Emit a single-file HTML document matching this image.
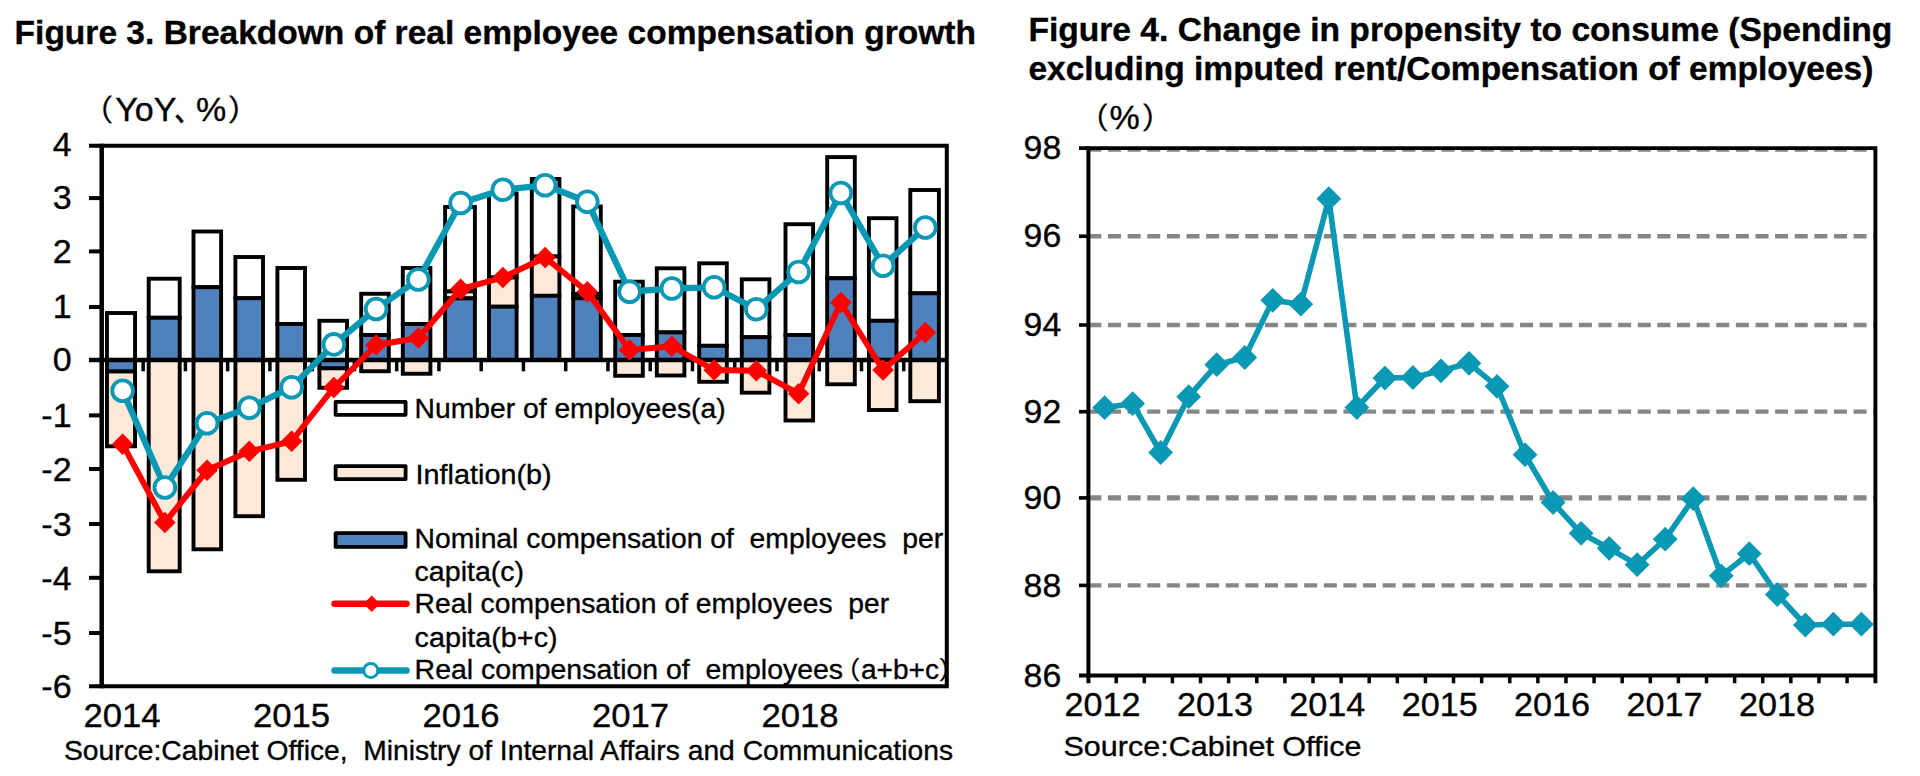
<!DOCTYPE html>
<html lang="en">
<head>
<meta charset="utf-8">
<title>Figure 3 and Figure 4</title>
<style>
html,body{margin:0;padding:0;background:#fff;}
body{width:1920px;height:776px;overflow:hidden;}
svg{display:block;font-family:"Liberation Sans", "IPAGothic", sans-serif;}
</style>
</head>
<body>
<svg width="1920" height="776" viewBox="0 0 1920 776">
<rect x="0" y="0" width="1920" height="776" fill="#fff"/>
<g id="chart1">
<g id="bars1">
<rect x="106.95" y="371.30" width="28.10" height="75.00" fill="#FDE9D9" stroke="#000" stroke-width="3.9"/>
<rect x="106.95" y="359.90" width="28.10" height="11.40" fill="#4F81BD" stroke="#000" stroke-width="3.9"/>
<rect x="106.95" y="313.00" width="28.10" height="46.90" fill="#fff" stroke="#000" stroke-width="3.9"/>
<rect x="148.70" y="359.90" width="31.00" height="211.40" fill="#FDE9D9" stroke="#000" stroke-width="3.9"/>
<rect x="148.70" y="278.70" width="31.00" height="39.05" fill="#fff" stroke="#000" stroke-width="3.9"/>
<rect x="148.70" y="317.75" width="31.00" height="42.15" fill="#4F81BD" stroke="#000" stroke-width="3.9"/>
<rect x="193.50" y="359.90" width="27.60" height="189.40" fill="#FDE9D9" stroke="#000" stroke-width="3.9"/>
<rect x="193.50" y="231.50" width="27.60" height="55.70" fill="#fff" stroke="#000" stroke-width="3.9"/>
<rect x="193.50" y="287.20" width="27.60" height="72.70" fill="#4F81BD" stroke="#000" stroke-width="3.9"/>
<rect x="235.40" y="359.90" width="27.60" height="156.30" fill="#FDE9D9" stroke="#000" stroke-width="3.9"/>
<rect x="235.40" y="257.00" width="27.60" height="41.20" fill="#fff" stroke="#000" stroke-width="3.9"/>
<rect x="235.40" y="298.20" width="27.60" height="61.70" fill="#4F81BD" stroke="#000" stroke-width="3.9"/>
<rect x="277.40" y="359.90" width="27.60" height="119.90" fill="#FDE9D9" stroke="#000" stroke-width="3.9"/>
<rect x="277.40" y="268.00" width="27.60" height="56.00" fill="#fff" stroke="#000" stroke-width="3.9"/>
<rect x="277.40" y="324.00" width="27.60" height="35.90" fill="#4F81BD" stroke="#000" stroke-width="3.9"/>
<rect x="319.40" y="368.20" width="27.60" height="19.60" fill="#FDE9D9" stroke="#000" stroke-width="3.9"/>
<rect x="319.40" y="359.90" width="27.60" height="8.30" fill="#4F81BD" stroke="#000" stroke-width="3.9"/>
<rect x="319.40" y="320.80" width="27.60" height="39.10" fill="#fff" stroke="#000" stroke-width="3.9"/>
<rect x="361.20" y="359.90" width="27.60" height="11.35" fill="#FDE9D9" stroke="#000" stroke-width="3.9"/>
<rect x="361.20" y="293.75" width="27.60" height="41.25" fill="#fff" stroke="#000" stroke-width="3.9"/>
<rect x="361.20" y="335.00" width="27.60" height="24.90" fill="#4F81BD" stroke="#000" stroke-width="3.9"/>
<rect x="402.80" y="359.90" width="27.60" height="13.85" fill="#FDE9D9" stroke="#000" stroke-width="3.9"/>
<rect x="402.80" y="268.00" width="27.60" height="56.00" fill="#fff" stroke="#000" stroke-width="3.9"/>
<rect x="402.80" y="324.00" width="27.60" height="35.90" fill="#4F81BD" stroke="#000" stroke-width="3.9"/>
<rect x="445.10" y="207.00" width="29.80" height="84.40" fill="#fff" stroke="#000" stroke-width="3.9"/>
<rect x="445.10" y="291.40" width="29.80" height="7.00" fill="#FDE9D9" stroke="#000" stroke-width="3.9"/>
<rect x="445.10" y="298.40" width="29.80" height="61.50" fill="#4F81BD" stroke="#000" stroke-width="3.9"/>
<rect x="489.00" y="193.50" width="27.60" height="84.00" fill="#fff" stroke="#000" stroke-width="3.9"/>
<rect x="489.00" y="277.50" width="27.60" height="29.20" fill="#FDE9D9" stroke="#000" stroke-width="3.9"/>
<rect x="489.00" y="306.70" width="27.60" height="53.20" fill="#4F81BD" stroke="#000" stroke-width="3.9"/>
<rect x="531.80" y="179.00" width="27.60" height="77.50" fill="#fff" stroke="#000" stroke-width="3.9"/>
<rect x="531.80" y="256.50" width="27.60" height="39.30" fill="#FDE9D9" stroke="#000" stroke-width="3.9"/>
<rect x="531.80" y="295.80" width="27.60" height="64.10" fill="#4F81BD" stroke="#000" stroke-width="3.9"/>
<rect x="573.20" y="206.50" width="27.60" height="87.50" fill="#fff" stroke="#000" stroke-width="3.9"/>
<rect x="573.20" y="294.00" width="27.60" height="4.30" fill="#FDE9D9" stroke="#000" stroke-width="3.9"/>
<rect x="573.20" y="298.30" width="27.60" height="61.60" fill="#4F81BD" stroke="#000" stroke-width="3.9"/>
<rect x="615.20" y="359.90" width="27.60" height="15.90" fill="#FDE9D9" stroke="#000" stroke-width="3.9"/>
<rect x="615.20" y="281.70" width="27.60" height="53.30" fill="#fff" stroke="#000" stroke-width="3.9"/>
<rect x="615.20" y="335.00" width="27.60" height="24.90" fill="#4F81BD" stroke="#000" stroke-width="3.9"/>
<rect x="656.80" y="359.90" width="27.60" height="15.60" fill="#FDE9D9" stroke="#000" stroke-width="3.9"/>
<rect x="656.80" y="268.30" width="27.60" height="64.10" fill="#fff" stroke="#000" stroke-width="3.9"/>
<rect x="656.80" y="332.40" width="27.60" height="27.50" fill="#4F81BD" stroke="#000" stroke-width="3.9"/>
<rect x="699.20" y="359.90" width="27.60" height="21.90" fill="#FDE9D9" stroke="#000" stroke-width="3.9"/>
<rect x="699.20" y="263.30" width="27.60" height="82.50" fill="#fff" stroke="#000" stroke-width="3.9"/>
<rect x="699.20" y="345.80" width="27.60" height="14.10" fill="#4F81BD" stroke="#000" stroke-width="3.9"/>
<rect x="741.80" y="359.90" width="27.60" height="32.80" fill="#FDE9D9" stroke="#000" stroke-width="3.9"/>
<rect x="741.80" y="279.30" width="27.60" height="57.90" fill="#fff" stroke="#000" stroke-width="3.9"/>
<rect x="741.80" y="337.20" width="27.60" height="22.70" fill="#4F81BD" stroke="#000" stroke-width="3.9"/>
<rect x="785.50" y="359.90" width="27.60" height="60.60" fill="#FDE9D9" stroke="#000" stroke-width="3.9"/>
<rect x="785.50" y="224.20" width="27.60" height="110.80" fill="#fff" stroke="#000" stroke-width="3.9"/>
<rect x="785.50" y="335.00" width="27.60" height="24.90" fill="#4F81BD" stroke="#000" stroke-width="3.9"/>
<rect x="827.20" y="359.90" width="27.60" height="24.40" fill="#FDE9D9" stroke="#000" stroke-width="3.9"/>
<rect x="827.20" y="157.10" width="27.60" height="121.20" fill="#fff" stroke="#000" stroke-width="3.9"/>
<rect x="827.20" y="278.30" width="27.60" height="81.60" fill="#4F81BD" stroke="#000" stroke-width="3.9"/>
<rect x="868.90" y="359.90" width="27.60" height="50.10" fill="#FDE9D9" stroke="#000" stroke-width="3.9"/>
<rect x="868.90" y="218.20" width="27.60" height="102.60" fill="#fff" stroke="#000" stroke-width="3.9"/>
<rect x="868.90" y="320.80" width="27.60" height="39.10" fill="#4F81BD" stroke="#000" stroke-width="3.9"/>
<rect x="910.30" y="359.90" width="28.60" height="41.30" fill="#FDE9D9" stroke="#000" stroke-width="3.9"/>
<rect x="910.30" y="190.00" width="28.60" height="103.30" fill="#fff" stroke="#000" stroke-width="3.9"/>
<rect x="910.30" y="293.30" width="28.60" height="66.60" fill="#4F81BD" stroke="#000" stroke-width="3.9"/>
</g>
<g stroke="#000" fill="none">
<path d="M89 145.8 H946.8 V686.2 H89" stroke-width="4"/>
<path d="M101.7 143.8 V688.2" stroke-width="4.5"/>
<path d="M89 359.9 H946.8" stroke-width="4.5"/>
<path d="M89 198.1 H101.7" stroke-width="4"/>
<path d="M89 251.4 H101.7" stroke-width="4"/>
<path d="M89 307.0 H101.7" stroke-width="4"/>
<path d="M89 415.4 H101.7" stroke-width="4"/>
<path d="M89 469.0 H101.7" stroke-width="4"/>
<path d="M89 524.0 H101.7" stroke-width="4"/>
<path d="M89 577.8 H101.7" stroke-width="4"/>
<path d="M89 633.0 H101.7" stroke-width="4"/>
<path d="M143.16 359.9 V371.3" stroke-width="3.5"/>
<path d="M185.41 359.9 V371.3" stroke-width="3.5"/>
<path d="M227.67 359.9 V371.3" stroke-width="3.5"/>
<path d="M269.92 359.9 V371.3" stroke-width="3.5"/>
<path d="M312.18 359.9 V371.3" stroke-width="3.5"/>
<path d="M354.43 359.9 V371.3" stroke-width="3.5"/>
<path d="M396.69 359.9 V371.3" stroke-width="3.5"/>
<path d="M438.94 359.9 V371.3" stroke-width="3.5"/>
<path d="M481.19 359.9 V371.3" stroke-width="3.5"/>
<path d="M523.45 359.9 V371.3" stroke-width="3.5"/>
<path d="M565.71 359.9 V371.3" stroke-width="3.5"/>
<path d="M607.96 359.9 V371.3" stroke-width="3.5"/>
<path d="M650.22 359.9 V371.3" stroke-width="3.5"/>
<path d="M692.47 359.9 V371.3" stroke-width="3.5"/>
<path d="M734.73 359.9 V371.3" stroke-width="3.5"/>
<path d="M776.98 359.9 V371.3" stroke-width="3.5"/>
<path d="M819.24 359.9 V371.3" stroke-width="3.5"/>
<path d="M861.49 359.9 V371.3" stroke-width="3.5"/>
<path d="M903.75 359.9 V371.3" stroke-width="3.5"/>
</g>
<g id="legend1">
<rect x="335.6" y="401.80" width="70" height="13" fill="#fff" stroke="#000" stroke-width="3.8" stroke-linejoin="round"/>
<rect x="335.6" y="466.10" width="70" height="13" fill="#FDE9D9" stroke="#000" stroke-width="3.8" stroke-linejoin="round"/>
<rect x="335.6" y="533.10" width="70" height="13.8" fill="#4F81BD" stroke="#000" stroke-width="3.8" stroke-linejoin="round"/>
<path d="M334.5 603.8 H406.5" stroke="#FF0000" stroke-width="6.5" stroke-linecap="round"/>
<path d="M371.7 595.6 l8.2 8.2 l-8.2 8.2 l-8.2 -8.2z" fill="#FF0000"/>
<path d="M334.5 670.5 H406.5" stroke="#0B98B4" stroke-width="6.5" stroke-linecap="round"/>
<circle cx="370.8" cy="670.5" r="7" fill="#fff" stroke="#0B98B4" stroke-width="3"/>
</g>
<polyline points="122.60,444.20 164.85,522.50 207.10,470.30 249.35,451.30 291.60,441.30 333.85,387.50 376.10,345.00 418.35,338.00 460.60,289.20 502.85,277.50 545.10,257.50 587.35,291.70 629.60,350.00 671.85,346.30 714.10,370.00 756.35,370.80 798.60,393.70 840.85,302.50 883.10,370.00 925.35,332.50" fill="none" stroke="#FF0000" stroke-width="5.9" stroke-linejoin="round"/>
<path d="M122.60 433.40 l10.8 10.8 l-10.8 10.8 l-10.8 -10.8z" fill="#FF0000"/>
<path d="M164.85 511.70 l10.8 10.8 l-10.8 10.8 l-10.8 -10.8z" fill="#FF0000"/>
<path d="M207.10 459.50 l10.8 10.8 l-10.8 10.8 l-10.8 -10.8z" fill="#FF0000"/>
<path d="M249.35 440.50 l10.8 10.8 l-10.8 10.8 l-10.8 -10.8z" fill="#FF0000"/>
<path d="M291.60 430.50 l10.8 10.8 l-10.8 10.8 l-10.8 -10.8z" fill="#FF0000"/>
<path d="M333.85 376.70 l10.8 10.8 l-10.8 10.8 l-10.8 -10.8z" fill="#FF0000"/>
<path d="M376.10 334.20 l10.8 10.8 l-10.8 10.8 l-10.8 -10.8z" fill="#FF0000"/>
<path d="M418.35 327.20 l10.8 10.8 l-10.8 10.8 l-10.8 -10.8z" fill="#FF0000"/>
<path d="M460.60 278.40 l10.8 10.8 l-10.8 10.8 l-10.8 -10.8z" fill="#FF0000"/>
<path d="M502.85 266.70 l10.8 10.8 l-10.8 10.8 l-10.8 -10.8z" fill="#FF0000"/>
<path d="M545.10 246.70 l10.8 10.8 l-10.8 10.8 l-10.8 -10.8z" fill="#FF0000"/>
<path d="M587.35 280.90 l10.8 10.8 l-10.8 10.8 l-10.8 -10.8z" fill="#FF0000"/>
<path d="M629.60 339.20 l10.8 10.8 l-10.8 10.8 l-10.8 -10.8z" fill="#FF0000"/>
<path d="M671.85 335.50 l10.8 10.8 l-10.8 10.8 l-10.8 -10.8z" fill="#FF0000"/>
<path d="M714.10 359.20 l10.8 10.8 l-10.8 10.8 l-10.8 -10.8z" fill="#FF0000"/>
<path d="M756.35 360.00 l10.8 10.8 l-10.8 10.8 l-10.8 -10.8z" fill="#FF0000"/>
<path d="M798.60 382.90 l10.8 10.8 l-10.8 10.8 l-10.8 -10.8z" fill="#FF0000"/>
<path d="M840.85 291.70 l10.8 10.8 l-10.8 10.8 l-10.8 -10.8z" fill="#FF0000"/>
<path d="M883.10 359.20 l10.8 10.8 l-10.8 10.8 l-10.8 -10.8z" fill="#FF0000"/>
<path d="M925.35 321.70 l10.8 10.8 l-10.8 10.8 l-10.8 -10.8z" fill="#FF0000"/>
<polyline points="122.60,390.80 164.85,487.50 207.10,423.20 249.35,407.80 291.60,387.20 333.85,344.40 376.10,309.00 418.35,279.50 460.60,203.00 502.85,189.70 545.10,185.30 587.35,201.70 629.60,291.70 671.85,288.50 714.10,287.30 756.35,309.20 798.60,272.00 840.85,193.00 883.10,265.80 925.35,227.50" fill="none" stroke="#0B98B4" stroke-width="6.3" stroke-linejoin="round"/>
<circle cx="122.60" cy="390.80" r="10.4" fill="#fff" stroke="#0B98B4" stroke-width="3.8"/>
<circle cx="164.85" cy="487.50" r="10.4" fill="#fff" stroke="#0B98B4" stroke-width="3.8"/>
<circle cx="207.10" cy="423.20" r="10.4" fill="#fff" stroke="#0B98B4" stroke-width="3.8"/>
<circle cx="249.35" cy="407.80" r="10.4" fill="#fff" stroke="#0B98B4" stroke-width="3.8"/>
<circle cx="291.60" cy="387.20" r="10.4" fill="#fff" stroke="#0B98B4" stroke-width="3.8"/>
<circle cx="333.85" cy="344.40" r="10.4" fill="#fff" stroke="#0B98B4" stroke-width="3.8"/>
<circle cx="376.10" cy="309.00" r="10.4" fill="#fff" stroke="#0B98B4" stroke-width="3.8"/>
<circle cx="418.35" cy="279.50" r="10.4" fill="#fff" stroke="#0B98B4" stroke-width="3.8"/>
<circle cx="460.60" cy="203.00" r="10.4" fill="#fff" stroke="#0B98B4" stroke-width="3.8"/>
<circle cx="502.85" cy="189.70" r="10.4" fill="#fff" stroke="#0B98B4" stroke-width="3.8"/>
<circle cx="545.10" cy="185.30" r="10.4" fill="#fff" stroke="#0B98B4" stroke-width="3.8"/>
<circle cx="587.35" cy="201.70" r="10.4" fill="#fff" stroke="#0B98B4" stroke-width="3.8"/>
<circle cx="629.60" cy="291.70" r="10.4" fill="#fff" stroke="#0B98B4" stroke-width="3.8"/>
<circle cx="671.85" cy="288.50" r="10.4" fill="#fff" stroke="#0B98B4" stroke-width="3.8"/>
<circle cx="714.10" cy="287.30" r="10.4" fill="#fff" stroke="#0B98B4" stroke-width="3.8"/>
<circle cx="756.35" cy="309.20" r="10.4" fill="#fff" stroke="#0B98B4" stroke-width="3.8"/>
<circle cx="798.60" cy="272.00" r="10.4" fill="#fff" stroke="#0B98B4" stroke-width="3.8"/>
<circle cx="840.85" cy="193.00" r="10.4" fill="#fff" stroke="#0B98B4" stroke-width="3.8"/>
<circle cx="883.10" cy="265.80" r="10.4" fill="#fff" stroke="#0B98B4" stroke-width="3.8"/>
<circle cx="925.35" cy="227.50" r="10.4" fill="#fff" stroke="#0B98B4" stroke-width="3.8"/>
<g id="text1" fill="#000" stroke="#000" stroke-width="0.35">
<text x="14.60" y="43.60" font-size="33.2" text-anchor="start" font-weight="bold" textLength="961.30" lengthAdjust="spacingAndGlyphs">Figure 3. Breakdown of real employee compensation growth</text>
<text y="121.4" font-size="34"><tspan x="83.5" font-size="30.5">（</tspan><tspan x="115.3">YoY</tspan><tspan x="174">、</tspan><tspan x="196">%</tspan><tspan x="227" font-size="30.5">）</tspan></text>
<text x="71.60" y="156.15" font-size="34" text-anchor="end" font-weight="normal">4</text>
<text x="71.60" y="209.30" font-size="34" text-anchor="end" font-weight="normal">3</text>
<text x="71.60" y="262.60" font-size="34" text-anchor="end" font-weight="normal">2</text>
<text x="71.60" y="318.20" font-size="34" text-anchor="end" font-weight="normal">1</text>
<text x="71.60" y="371.10" font-size="34" text-anchor="end" font-weight="normal">0</text>
<text x="71.60" y="426.60" font-size="34" text-anchor="end" font-weight="normal">-1</text>
<text x="71.60" y="480.80" font-size="34" text-anchor="end" font-weight="normal">-2</text>
<text x="71.60" y="535.80" font-size="34" text-anchor="end" font-weight="normal">-3</text>
<text x="71.60" y="589.60" font-size="34" text-anchor="end" font-weight="normal">-4</text>
<text x="71.60" y="644.80" font-size="34" text-anchor="end" font-weight="normal">-5</text>
<text x="71.60" y="698.00" font-size="34" text-anchor="end" font-weight="normal">-6</text>
<text x="83.40" y="727.30" font-size="34" text-anchor="start" font-weight="normal" textLength="77.20" lengthAdjust="spacingAndGlyphs">2014</text>
<text x="252.90" y="727.30" font-size="34" text-anchor="start" font-weight="normal" textLength="77.20" lengthAdjust="spacingAndGlyphs">2015</text>
<text x="422.40" y="727.30" font-size="34" text-anchor="start" font-weight="normal" textLength="77.20" lengthAdjust="spacingAndGlyphs">2016</text>
<text x="591.90" y="727.30" font-size="34" text-anchor="start" font-weight="normal" textLength="77.20" lengthAdjust="spacingAndGlyphs">2017</text>
<text x="761.40" y="727.30" font-size="34" text-anchor="start" font-weight="normal" textLength="77.20" lengthAdjust="spacingAndGlyphs">2018</text>
<text x="64.00" y="759.50" font-size="28.3" text-anchor="start" font-weight="normal" textLength="889.00" lengthAdjust="spacingAndGlyphs" xml:space="preserve">Source:Cabinet Office,  Ministry of Internal Affairs and Communications</text>
<text x="414.60" y="418.00" font-size="28.4" text-anchor="start" font-weight="normal" textLength="311.00" lengthAdjust="spacingAndGlyphs">Number of employees(a)</text>
<text x="415.60" y="483.75" font-size="28.4" text-anchor="start" font-weight="normal" textLength="136.00" lengthAdjust="spacingAndGlyphs">Inflation(b)</text>
<text x="414.60" y="547.50" font-size="28.4" text-anchor="start" font-weight="normal" textLength="528.50" lengthAdjust="spacingAndGlyphs" xml:space="preserve">Nominal compensation of  employees  per</text>
<text x="414.60" y="581.25" font-size="28.4" text-anchor="start" font-weight="normal" textLength="109.50" lengthAdjust="spacingAndGlyphs">capita(c)</text>
<text x="414.60" y="613.00" font-size="28.4" text-anchor="start" font-weight="normal" textLength="474.50" lengthAdjust="spacingAndGlyphs" xml:space="preserve">Real compensation of employees  per</text>
<text x="414.60" y="647.00" font-size="28.4" text-anchor="start" font-weight="normal" textLength="143.00" lengthAdjust="spacingAndGlyphs">capita(b+c)</text>
<text y="678.75" font-size="28.4" xml:space="preserve"><tspan x="414.6" textLength="428.5" lengthAdjust="spacingAndGlyphs">Real compensation of  employees</tspan><tspan x="835.5" font-size="25.5">（</tspan><tspan x="861" textLength="78" lengthAdjust="spacingAndGlyphs">a+b+c</tspan><tspan x="938" font-size="25.5">）</tspan></text>
</g>
</g>
<g id="chart2">
<path d="M1088.4 149.7 H1875.4" stroke="#868686" stroke-width="4.3" stroke-dasharray="13 6.62" stroke-dashoffset="0" fill="none"/>
<path d="M1088.4 236.25 H1875.4" stroke="#868686" stroke-width="4.3" stroke-dasharray="13 6.62" stroke-dashoffset="0" fill="none"/>
<path d="M1088.4 325.0 H1875.4" stroke="#868686" stroke-width="4.3" stroke-dasharray="13 6.62" stroke-dashoffset="0" fill="none"/>
<path d="M1088.4 411.7 H1875.4" stroke="#868686" stroke-width="4.3" stroke-dasharray="13 6.62" stroke-dashoffset="0" fill="none"/>
<path d="M1088.4 497.9 H1875.4" stroke="#868686" stroke-width="5.4" stroke-dasharray="13 6.62" stroke-dashoffset="0" fill="none"/>
<path d="M1088.4 585.4 H1875.4" stroke="#868686" stroke-width="4.3" stroke-dasharray="13 6.62" stroke-dashoffset="0" fill="none"/>
<g stroke="#000" fill="none">
<path d="M1079 148.1 H1875.4 V683.3 M1875.4 675.5 H1079" stroke-width="3.9"/>
<path d="M1088.4 146.2 V683.3" stroke-width="4"/>
<path d="M1079 236.25 H1088.4" stroke-width="3.6"/>
<path d="M1079 325.0 H1088.4" stroke-width="3.6"/>
<path d="M1079 411.7 H1088.4" stroke-width="3.6"/>
<path d="M1079 497.9 H1088.4" stroke-width="3.6"/>
<path d="M1079 585.4 H1088.4" stroke-width="3.6"/>
<path d="M1116.21 675.5 V683.3" stroke-width="3.5"/>
<path d="M1144.32 675.5 V683.3" stroke-width="3.5"/>
<path d="M1172.43 675.5 V683.3" stroke-width="3.5"/>
<path d="M1200.54 675.5 V683.3" stroke-width="3.5"/>
<path d="M1228.65 675.5 V683.3" stroke-width="3.5"/>
<path d="M1256.76 675.5 V683.3" stroke-width="3.5"/>
<path d="M1284.87 675.5 V683.3" stroke-width="3.5"/>
<path d="M1312.98 675.5 V683.3" stroke-width="3.5"/>
<path d="M1341.09 675.5 V683.3" stroke-width="3.5"/>
<path d="M1369.20 675.5 V683.3" stroke-width="3.5"/>
<path d="M1397.31 675.5 V683.3" stroke-width="3.5"/>
<path d="M1425.42 675.5 V683.3" stroke-width="3.5"/>
<path d="M1453.53 675.5 V683.3" stroke-width="3.5"/>
<path d="M1481.64 675.5 V683.3" stroke-width="3.5"/>
<path d="M1509.75 675.5 V683.3" stroke-width="3.5"/>
<path d="M1537.86 675.5 V683.3" stroke-width="3.5"/>
<path d="M1565.97 675.5 V683.3" stroke-width="3.5"/>
<path d="M1594.08 675.5 V683.3" stroke-width="3.5"/>
<path d="M1622.19 675.5 V683.3" stroke-width="3.5"/>
<path d="M1650.30 675.5 V683.3" stroke-width="3.5"/>
<path d="M1678.41 675.5 V683.3" stroke-width="3.5"/>
<path d="M1706.52 675.5 V683.3" stroke-width="3.5"/>
<path d="M1734.63 675.5 V683.3" stroke-width="3.5"/>
<path d="M1762.74 675.5 V683.3" stroke-width="3.5"/>
<path d="M1790.85 675.5 V683.3" stroke-width="3.5"/>
<path d="M1818.96 675.5 V683.3" stroke-width="3.5"/>
<path d="M1847.07 675.5 V683.3" stroke-width="3.5"/>
</g>
<polyline points="1104.60,407.70 1132.63,403.60 1160.66,452.50 1188.69,396.70 1216.72,364.70 1244.75,357.50 1272.78,300.30 1300.81,304.20 1328.84,198.70 1356.87,407.50 1384.90,378.00 1412.93,377.50 1440.96,370.80 1468.99,363.30 1497.02,386.30 1525.05,454.70 1553.08,502.50 1581.11,533.30 1609.14,548.30 1637.17,564.70 1665.20,539.20 1693.23,498.70 1721.26,575.80 1749.29,553.70 1777.32,594.50 1805.35,625.00 1833.38,624.20 1861.41,624.20" fill="none" stroke="#0B98B4" stroke-width="5.6" stroke-linejoin="round"/>
<path d="M1104.60 395.30 l12.4 12.4 l-12.4 12.4 l-12.4 -12.4z" fill="#0B98B4"/>
<path d="M1132.63 391.20 l12.4 12.4 l-12.4 12.4 l-12.4 -12.4z" fill="#0B98B4"/>
<path d="M1160.66 440.10 l12.4 12.4 l-12.4 12.4 l-12.4 -12.4z" fill="#0B98B4"/>
<path d="M1188.69 384.30 l12.4 12.4 l-12.4 12.4 l-12.4 -12.4z" fill="#0B98B4"/>
<path d="M1216.72 352.30 l12.4 12.4 l-12.4 12.4 l-12.4 -12.4z" fill="#0B98B4"/>
<path d="M1244.75 345.10 l12.4 12.4 l-12.4 12.4 l-12.4 -12.4z" fill="#0B98B4"/>
<path d="M1272.78 287.90 l12.4 12.4 l-12.4 12.4 l-12.4 -12.4z" fill="#0B98B4"/>
<path d="M1300.81 291.80 l12.4 12.4 l-12.4 12.4 l-12.4 -12.4z" fill="#0B98B4"/>
<path d="M1328.84 186.30 l12.4 12.4 l-12.4 12.4 l-12.4 -12.4z" fill="#0B98B4"/>
<path d="M1356.87 395.10 l12.4 12.4 l-12.4 12.4 l-12.4 -12.4z" fill="#0B98B4"/>
<path d="M1384.90 365.60 l12.4 12.4 l-12.4 12.4 l-12.4 -12.4z" fill="#0B98B4"/>
<path d="M1412.93 365.10 l12.4 12.4 l-12.4 12.4 l-12.4 -12.4z" fill="#0B98B4"/>
<path d="M1440.96 358.40 l12.4 12.4 l-12.4 12.4 l-12.4 -12.4z" fill="#0B98B4"/>
<path d="M1468.99 350.90 l12.4 12.4 l-12.4 12.4 l-12.4 -12.4z" fill="#0B98B4"/>
<path d="M1497.02 373.90 l12.4 12.4 l-12.4 12.4 l-12.4 -12.4z" fill="#0B98B4"/>
<path d="M1525.05 442.30 l12.4 12.4 l-12.4 12.4 l-12.4 -12.4z" fill="#0B98B4"/>
<path d="M1553.08 490.10 l12.4 12.4 l-12.4 12.4 l-12.4 -12.4z" fill="#0B98B4"/>
<path d="M1581.11 520.90 l12.4 12.4 l-12.4 12.4 l-12.4 -12.4z" fill="#0B98B4"/>
<path d="M1609.14 535.90 l12.4 12.4 l-12.4 12.4 l-12.4 -12.4z" fill="#0B98B4"/>
<path d="M1637.17 552.30 l12.4 12.4 l-12.4 12.4 l-12.4 -12.4z" fill="#0B98B4"/>
<path d="M1665.20 526.80 l12.4 12.4 l-12.4 12.4 l-12.4 -12.4z" fill="#0B98B4"/>
<path d="M1693.23 486.30 l12.4 12.4 l-12.4 12.4 l-12.4 -12.4z" fill="#0B98B4"/>
<path d="M1721.26 563.40 l12.4 12.4 l-12.4 12.4 l-12.4 -12.4z" fill="#0B98B4"/>
<path d="M1749.29 541.30 l12.4 12.4 l-12.4 12.4 l-12.4 -12.4z" fill="#0B98B4"/>
<path d="M1777.32 582.10 l12.4 12.4 l-12.4 12.4 l-12.4 -12.4z" fill="#0B98B4"/>
<path d="M1805.35 612.60 l12.4 12.4 l-12.4 12.4 l-12.4 -12.4z" fill="#0B98B4"/>
<path d="M1833.38 611.80 l12.4 12.4 l-12.4 12.4 l-12.4 -12.4z" fill="#0B98B4"/>
<path d="M1861.41 611.80 l12.4 12.4 l-12.4 12.4 l-12.4 -12.4z" fill="#0B98B4"/>
<g id="text2" fill="#000" stroke="#000" stroke-width="0.35">
<text x="1028.40" y="40.90" font-size="33.2" text-anchor="start" font-weight="bold" textLength="864.00" lengthAdjust="spacingAndGlyphs">Figure 4. Change in propensity to consume (Spending</text>
<text x="1028.40" y="79.70" font-size="33.2" text-anchor="start" font-weight="bold" textLength="845.00" lengthAdjust="spacingAndGlyphs">excluding imputed rent/Compensation of employees)</text>
<text y="128.5" font-size="34"><tspan x="1079" font-size="30.5">（</tspan><tspan x="1109.5">%</tspan><tspan x="1141" font-size="30.5">）</tspan></text>
<text x="1023.60" y="159.30" font-size="34" text-anchor="start" font-weight="normal" textLength="37.60" lengthAdjust="spacingAndGlyphs">98</text>
<text x="1023.60" y="247.45" font-size="34" text-anchor="start" font-weight="normal" textLength="37.60" lengthAdjust="spacingAndGlyphs">96</text>
<text x="1023.60" y="336.20" font-size="34" text-anchor="start" font-weight="normal" textLength="37.60" lengthAdjust="spacingAndGlyphs">94</text>
<text x="1023.60" y="422.90" font-size="34" text-anchor="start" font-weight="normal" textLength="37.60" lengthAdjust="spacingAndGlyphs">92</text>
<text x="1023.60" y="509.10" font-size="34" text-anchor="start" font-weight="normal" textLength="37.60" lengthAdjust="spacingAndGlyphs">90</text>
<text x="1023.60" y="596.60" font-size="34" text-anchor="start" font-weight="normal" textLength="37.60" lengthAdjust="spacingAndGlyphs">88</text>
<text x="1023.60" y="686.70" font-size="34" text-anchor="start" font-weight="normal" textLength="37.60" lengthAdjust="spacingAndGlyphs">86</text>
<text x="1064.50" y="716.00" font-size="34" text-anchor="start" font-weight="normal" textLength="76.00" lengthAdjust="spacingAndGlyphs">2012</text>
<text x="1176.90" y="716.00" font-size="34" text-anchor="start" font-weight="normal" textLength="76.00" lengthAdjust="spacingAndGlyphs">2013</text>
<text x="1289.30" y="716.00" font-size="34" text-anchor="start" font-weight="normal" textLength="76.00" lengthAdjust="spacingAndGlyphs">2014</text>
<text x="1401.70" y="716.00" font-size="34" text-anchor="start" font-weight="normal" textLength="76.00" lengthAdjust="spacingAndGlyphs">2015</text>
<text x="1514.10" y="716.00" font-size="34" text-anchor="start" font-weight="normal" textLength="76.00" lengthAdjust="spacingAndGlyphs">2016</text>
<text x="1626.50" y="716.00" font-size="34" text-anchor="start" font-weight="normal" textLength="76.00" lengthAdjust="spacingAndGlyphs">2017</text>
<text x="1738.90" y="716.00" font-size="34" text-anchor="start" font-weight="normal" textLength="76.00" lengthAdjust="spacingAndGlyphs">2018</text>
<text x="1063.50" y="755.50" font-size="28.3" text-anchor="start" font-weight="normal" textLength="298.00" lengthAdjust="spacingAndGlyphs">Source:Cabinet Office</text>
</g>
</g>
</svg>
</body>
</html>
